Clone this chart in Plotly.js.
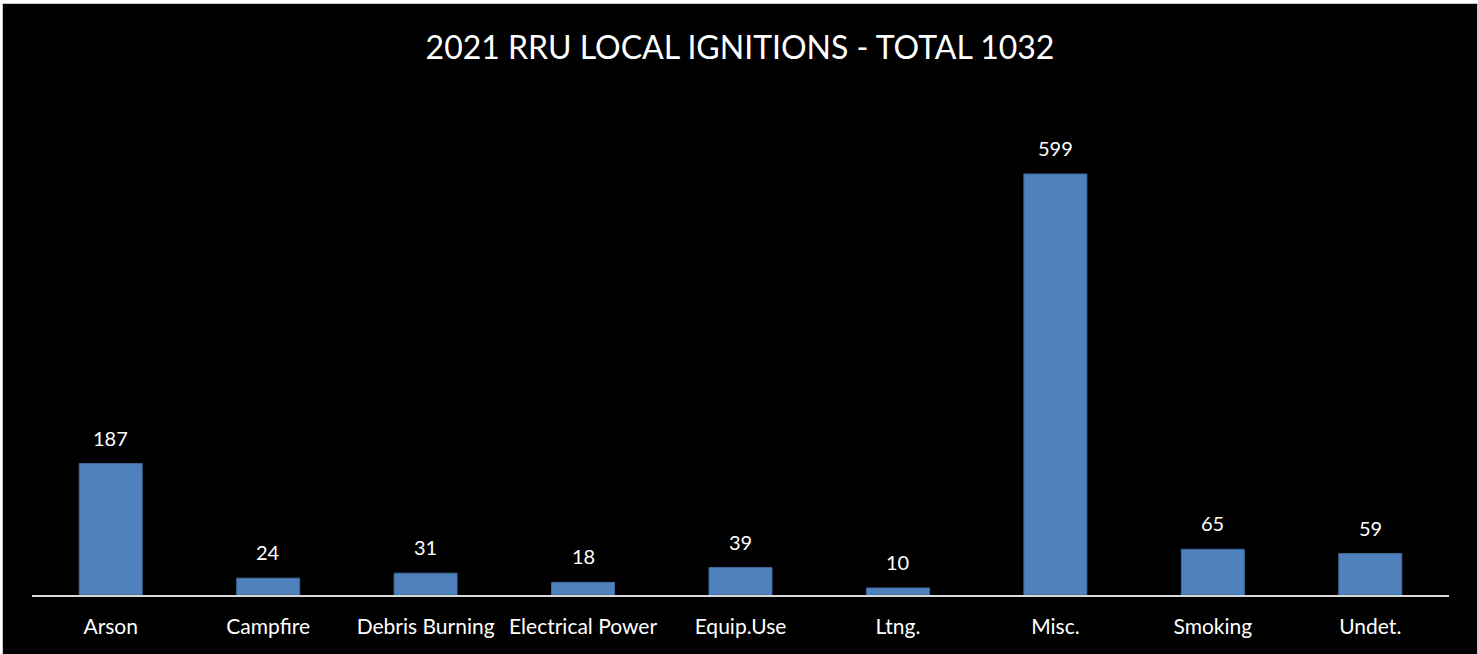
<!DOCTYPE html>
<html>
<head>
<meta charset="utf-8">
<script src="https://cdn.plot.ly/plotly-3.0.1.min.js"></script>
<style>
html,body{margin:0;padding:0;background:#ffffff;}
#frame{position:absolute;left:2px;top:3px;width:1476px;height:651px;background:#c8c8c8;}
#chart{position:absolute;left:3px;top:4px;width:1474px;height:650px;}
</style>
</head>
<body>
<div id="frame"></div>
<div id="chart"></div>
<script>
const categories = ["Arson","Campfire","Debris Burning","Electrical Power","Equip.Use","Ltng.","Misc.","Smoking","Undet."];
const ignitions = [187,24,31,18,39,10,599,65,59];
const chartTitle = "2021 RRU LOCAL IGNITIONS - TOTAL 1032";

const FONT = "Lato, 'Open Sans', sans-serif";

const trace = {
  type: "bar",
  x: categories,
  y: ignitions,
  marker: {color: "#4f81bd", line: {color: "#3f6a9e", width: 1}},
  hoverinfo: "x+y"
};

const annotations = categories.map((c, i) => ({
  x: c, y: ignitions[i], xref: "x", yref: "y",
  text: String(ignitions[i]), showarrow: false,
  yanchor: "bottom", yshift: 12,
  font: {family: FONT, size: 20, color: "#ffffff"}
}));

const layout = {
  width: 1474, height: 650,
  paper_bgcolor: "#000000", plot_bgcolor: "#000000",
  margin: {l: 29, r: 28, t: 99, b: 59},
  title: {text: chartTitle, x: 0.5, xanchor: "center", y: 0.933, yanchor: "middle",
          font: {family: FONT, size: 32, color: "#ffffff"}},
  bargap: 0.6,
  showlegend: false,
  xaxis: {
    type: "category",
    showline: true, linecolor: "#d9d9d9", linewidth: 2,
    ticks: "", showgrid: false, zeroline: false,
    tickfont: {family: FONT, size: 21, color: "#ffffff"},
    ticklabelstandoff: 12
  },
  yaxis: {
    range: [0, 700], visible: false, showgrid: false, zeroline: false
  },
  annotations: annotations
};

Plotly.newPlot("chart", [trace], layout, {displayModeBar: false, staticPlot: true});
</script>
</body>
</html>
